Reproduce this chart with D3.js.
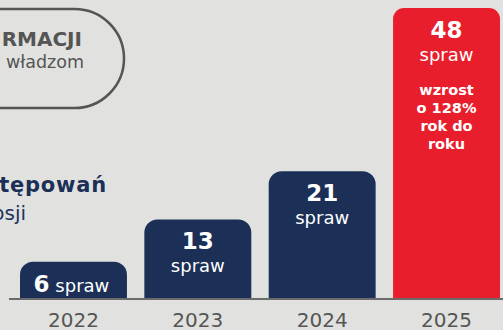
<!DOCTYPE html>
<html>
<head>
<meta charset="utf-8">
<script src="https://cdn.jsdelivr.net/npm/d3@7"></script>
<style>
  html, body { margin: 0; padding: 0; background: #e1e2df; }
  svg { display: block; font-family: "DejaVu Sans", "Open Sans", sans-serif; }
</style>
</head>
<body>
<svg id="chart" width="503" height="330"></svg>
<script>
const years = ["2022", "2023", "2024", "2025"];
const values = [6, 13, 21, 48];
const unitLabel = "spraw";
const highlightYear = "2025";
const noteLines = ["wzrost", "o 128%", "rok do", "roku"];
const headerLines = ["RMACJI", "władzom"];
const titleLines = ["tępowań", "osji"];

const W = 503, H = 330;
const navy = "#1b2f57", red = "#e81e2c", grey = "#555555";
const svg = d3.select("#chart");

svg.append("rect").attr("width", W).attr("height", H).attr("fill", "#e1e2df");

const x = d3.scaleBand().domain(years).range([20, 500]).paddingInner(0.14).paddingOuter(0);
const y = d3.scaleLinear().domain([0, 48]).range([298, 8]);

function topRounded(x0, y0, w, h, r) {
  r = Math.min(r, w / 2, h);
  const p = d3.path();
  p.moveTo(x0, y0 + h);
  p.lineTo(x0, y0 + r);
  p.arcTo(x0, y0, x0 + r, y0, r);
  p.lineTo(x0 + w - r, y0);
  p.arcTo(x0 + w, y0, x0 + w, y0 + r, r);
  p.lineTo(x0 + w, y0 + h);
  p.closePath();
  return p.toString();
}

const data = years.map((yr, i) => ({ year: yr, value: values[i] }));

// pill outline top-left
svg.append("rect")
  .attr("x", -60).attr("y", 9).attr("width", 184).attr("height", 99)
  .attr("rx", 49.5).attr("ry", 49.5)
  .attr("fill", "none").attr("stroke", grey).attr("stroke-width", 2.5);

svg.append("text").attr("x", 82).attr("y", 46).attr("text-anchor", "end")
  .attr("font-size", 20).attr("font-weight", 700).attr("fill", grey)
  .text(headerLines[0]);
svg.append("text").attr("x", 84).attr("y", 68).attr("text-anchor", "end")
  .attr("font-size", 17.5).attr("fill", grey)
  .text(headerLines[1]);

svg.append("text").attr("x", 107).attr("y", 192).attr("text-anchor", "end")
  .attr("font-size", 21).attr("font-weight", 700).attr("letter-spacing", 0.8).attr("fill", navy)
  .text(titleLines[0]);
svg.append("text").attr("x", 26).attr("y", 220).attr("text-anchor", "end")
  .attr("font-size", 20).attr("fill", "#24345a")
  .text(titleLines[1]);

// bars
svg.selectAll("path.bar").data(data).join("path")
  .attr("class", "bar")
  .attr("fill", d => d.year === highlightYear ? red : navy)
  .attr("d", d => topRounded(x(d.year), y(d.value), x.bandwidth(), y(0) - y(d.value), d.year === highlightYear ? 11 : 13));

// baseline
svg.append("line").attr("x1", 9).attr("x2", 503).attr("y1", 299).attr("y2", 299)
  .attr("stroke", "#6b6b6b").attr("stroke-width", 2);

// year labels
svg.selectAll("text.year").data(data).join("text")
  .attr("class", "year")
  .attr("x", d => x(d.year) + x.bandwidth() / 2)
  .attr("y", 327)
  .attr("text-anchor", "middle")
  .attr("font-size", 20)
  .attr("fill", grey)
  .text(d => d.year);

// value labels
data.forEach((d, i) => {
  const cx = x(d.year) + x.bandwidth() / 2;
  const top = y(d.value);
  if (i === 0) {
    const t = svg.append("text").attr("x", cx - 2).attr("y", 292)
      .attr("text-anchor", "middle").attr("fill", "#fff");
    t.append("tspan").attr("font-size", 23).attr("font-weight", 700).text(d.value);
    t.append("tspan").attr("font-size", 18).text(" " + unitLabel);
  } else {
    svg.append("text").attr("x", cx).attr("y", top + 30)
      .attr("text-anchor", "middle").attr("fill", "#fff")
      .attr("font-size", 23).attr("font-weight", 700).text(d.value);
    svg.append("text").attr("x", cx).attr("y", top + 53)
      .attr("text-anchor", "middle").attr("fill", "#fff")
      .attr("font-size", 18).text(unitLabel);
    if (d.year === highlightYear) {
      noteLines.forEach((ln, j) => {
        svg.append("text").attr("x", cx).attr("y", top + 87 + j * 18)
          .attr("text-anchor", "middle").attr("fill", "#fff")
          .attr("font-size", 14.5).attr("font-weight", 700).text(ln);
      });
    }
  }
});
</script>
</body>
</html>
